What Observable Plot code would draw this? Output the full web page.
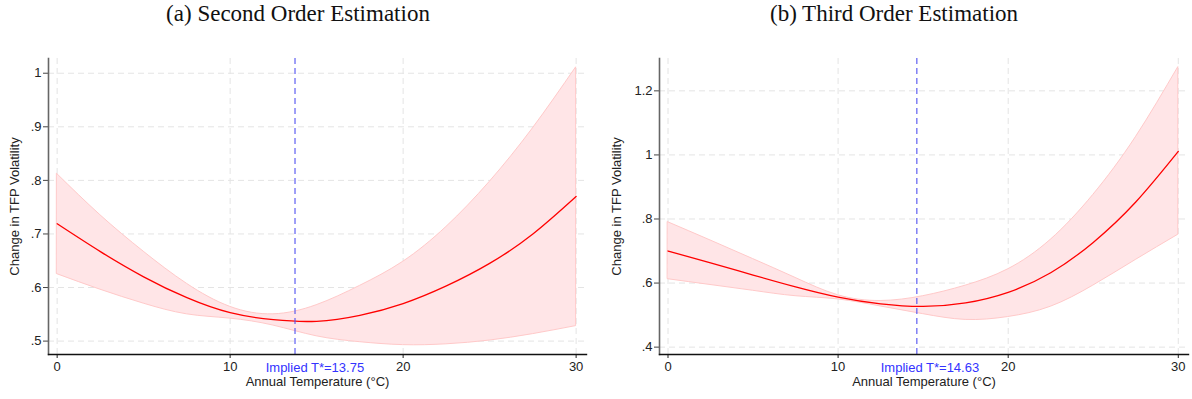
<!DOCTYPE html>
<html>
<head>
<meta charset="utf-8">
<script src="https://cdn.jsdelivr.net/npm/d3@7"></script>
<script src="https://cdn.jsdelivr.net/npm/@observablehq/plot@0.6"></script>
<style>
  html, body { margin: 0; padding: 0; background: #fff; }
  #wrap { position: relative; width: 1192px; height: 399px; overflow: hidden; }
  .panel { position: absolute; top: 0; width: 596px; height: 399px; }
  .title { position: absolute; top: 1px; left: 0; width: 596px; text-align: center;
           font-family: "Liberation Serif", serif; font-size: 23px; color: #111; z-index: 2; }
  .panel svg { position: absolute; top: 0; left: 0; }
</style>
</head>
<body>
<div id="wrap">
  <div class="panel" id="pa" style="left:0"></div>
  <div class="panel" id="pb" style="left:596px"></div>
</div>
<script>
// ---------- Data ----------
const titleA = "(a) Second Order Estimation";
const titleB = "(b) Third Order Estimation";
const yLabel = "Change in TFP Volatility";
const xLabel = "Annual Temperature (°C)";

const tempsA = [0, 2.5, 5, 7.5, 10, 12.5, 15, 17.5, 20, 22.5, 25, 27.5, 30];
const estA   = [0.719, 0.667, 0.620, 0.581, 0.553, 0.540, 0.537, 0.548, 0.570, 0.603, 0.645, 0.700, 0.770];
const hiA    = [0.812, 0.735, 0.667, 0.607, 0.564, 0.550, 0.567, 0.603, 0.648, 0.713, 0.797, 0.897, 1.011];
const loA    = [0.625, 0.596, 0.570, 0.550, 0.542, 0.529, 0.509, 0.498, 0.4925, 0.494, 0.501, 0.513, 0.528];
const starA  = 13.75;
const starLabelA = "Implied T*=13.75";
const yTicksA = [0.5, 0.6, 0.7, 0.8, 0.9, 1.0];

const tempsB = [0, 2.5, 5, 7.5, 10, 12.5, 15, 17.5, 20, 22.5, 25, 27.5, 30];
const estB   = [0.700, 0.663, 0.625, 0.588, 0.556, 0.535, 0.527, 0.538, 0.571, 0.632, 0.727, 0.853, 1.011];
const hiB    = [0.790, 0.733, 0.675, 0.616, 0.562, 0.544, 0.559, 0.592, 0.643, 0.735, 0.875, 1.055, 1.274];
const loB    = [0.612, 0.594, 0.576, 0.559, 0.549, 0.527, 0.503, 0.485, 0.494, 0.526, 0.592, 0.672, 0.751];
const starB  = 14.63;
const starLabelB = "Implied T*=14.63";
const yTicksB = [0.4, 0.6, 0.8, 1.0, 1.2];

const xTicks = [0, 10, 20, 30];

// ---------- Drawing ----------
const fmtY = d => (Math.abs(d - Math.round(d)) < 1e-9 ? String(Math.round(d)) : d3.format(".1f")(d).replace(/^0\./, "."));

function panel(opts) {
  const data = opts.temps.map((t, i) => ({t, est: opts.est[i], lo: opts.lo[i], hi: opts.hi[i]}));
  return Plot.plot({
    width: 596,
    height: 399,
    marginLeft: opts.marginLeft,
    marginRight: opts.marginRight,
    marginTop: 58,
    marginBottom: 45,
    x: {domain: [-0.5, 30.6]},
    y: {domain: opts.yDomain},
    style: {fontFamily: "'Liberation Sans', Arial, sans-serif", fontSize: "13px", color: "#222", background: "white"},
    marks: [
      Plot.gridY(opts.yTicks, {stroke: "#e4e4e4", strokeOpacity: 1, strokeDasharray: "6,4", strokeWidth: 1}),
      Plot.gridX(xTicks, {stroke: "#e4e4e4", strokeOpacity: 1, strokeDasharray: "6,4", strokeWidth: 1}),
      Plot.areaY(data, {x: "t", y1: "lo", y2: "hi", fill: "#ffe5e7", stroke: "#ffc9c9", strokeWidth: 1, curve: "natural"}),
      Plot.line(data, {x: "t", y: "est", stroke: "#ff0000", strokeWidth: 1.3, curve: "natural"}),
      Plot.ruleX([opts.star], {stroke: "#5050f0", strokeWidth: 1.1, strokeDasharray: "6,4"}),
      Plot.axisY(opts.yTicks, {tickSize: 5, tickPadding: 2, tickFormat: fmtY, label: null, fontSize: 13, stroke: "#444"}),
      Plot.axisX(xTicks, {tickSize: 4, tickPadding: 3, label: null, fontSize: 13, stroke: "#222"}),
      Plot.frame({anchor: "left", stroke: "#666", strokeWidth: 1.6}),
      Plot.frame({anchor: "bottom", stroke: "#111", strokeWidth: 1.4}),
      Plot.text([opts.starLabel], {x: [opts.starLabelX], frameAnchor: "bottom", dy: 17, fill: "#3333ff", fontSize: 13}),
      Plot.text([xLabel], {frameAnchor: "bottom", dy: 31, fill: "#222", fontSize: 13}),
      Plot.text([yLabel], {frameAnchor: "left", textAnchor: "middle", rotate: -90, dx: opts.yLabelDx, fill: "#222", fontSize: 13})
    ]
  });
}

function build(id, title, opts) {
  const host = document.getElementById(id);
  const t = document.createElement("div");
  t.className = "title";
  t.textContent = title;
  host.appendChild(t);
  host.appendChild(panel(opts));
}

build("pa", titleA, {
  temps: tempsA, est: estA, lo: loA, hi: hiA, star: starA, starLabel: starLabelA, starLabelX: 14.9,
  yTicks: yTicksA, yDomain: [0.475, 1.0275], marginLeft: 48, marginRight: 10, yLabelDx: -34
});
build("pb", titleB, {
  temps: tempsB, est: estB, lo: loB, hi: hiB, star: starB, starLabel: starLabelB, starLabelX: 15.4,
  yTicks: yTicksB, yDomain: [0.377, 1.301], marginLeft: 63, marginRight: 4, yLabelDx: -43
});
</script>
</body>
</html>
